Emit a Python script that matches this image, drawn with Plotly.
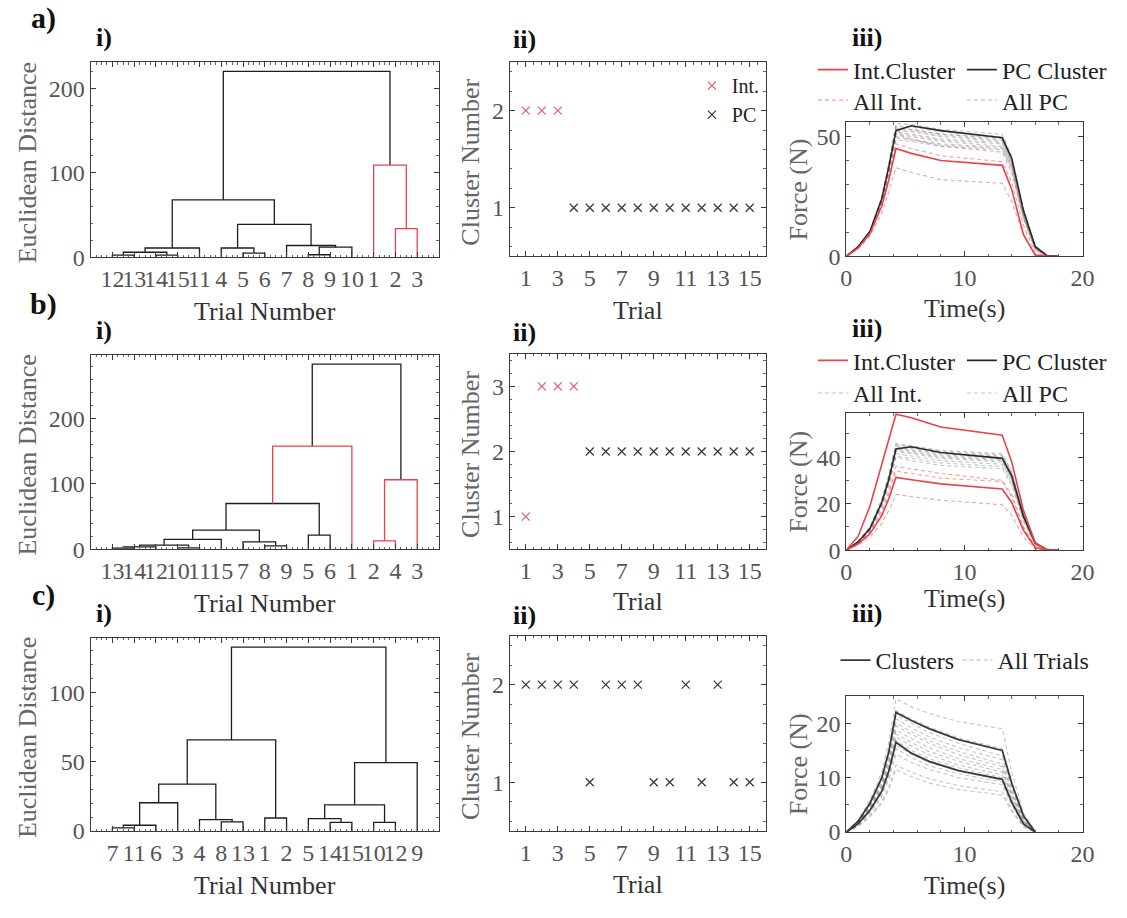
import plotly.graph_objects as go

W, H = 1127, 918
FONT = "Liberation Serif"

# ---------------- data ----------------
# Dendrograms: leaf order (trial numbers) and merges (child1, child2, height)
# positive child = trial number, negative child = -(index of earlier merge, 1-based)
leaf_order_a = [12, 13, 14, 15, 11, 4, 5, 6, 7, 8, 9, 10, 1, 2, 3]
merges_a = [(12, 13, 2.5), (14, 15, 2.5), (-1, -2, 6), (-3, 11, 11), (5, 6, 5), (4, -5, 11),
            (8, 9, 3), (-7, 10, 12), (7, -8, 14), (-6, -9, 39), (-4, -10, 68),
            (2, 3, 34), (1, -12, 109), (-11, -13, 220)]
link_group_a = ["pc"] * 11 + ["int", "int", "pc"]

leaf_order_b = [13, 14, 12, 10, 11, 15, 7, 8, 9, 5, 6, 1, 2, 4, 3]
merges_b = [(13, 14, 1.5), (-1, 12, 3.5), (10, 11, 2), (-2, -3, 6), (-4, 15, 15),
            (8, 9, 5), (7, -6, 11), (-5, -7, 29), (5, 6, 21.5), (-8, -9, 70),
            (-10, 1, 158), (2, 4, 12.5), (-12, 3, 106.5), (-11, -13, 284)]
link_group_b = ["pc"] * 10 + ["int", "int", "int", "pc"]

leaf_order_c = [7, 11, 6, 3, 4, 8, 13, 1, 2, 5, 14, 15, 10, 12, 9]
merges_c = [(7, 11, 2.3), (-1, 6, 4.2), (-2, 3, 20.4), (8, 13, 6.6), (4, -4, 8.2),
            (-3, -5, 33.8), (1, 2, 9.4), (-6, -7, 65.7), (14, 15, 6.3), (5, -9, 8.9),
            (10, 12, 6.3), (-10, -11, 18.8), (-12, 9, 49.3), (-8, -13, 132.6)]
link_group_c = ["pc"] * 14

# Cluster assignment per trial
trials = list(range(1, 16))
cluster_a = [2, 2, 2, 1, 1, 1, 1, 1, 1, 1, 1, 1, 1, 1, 1]
type_a = ["Int."] * 3 + ["PC"] * 12
cluster_b = [1, 3, 3, 3, 2, 2, 2, 2, 2, 2, 2, 2, 2, 2, 2]
type_b = ["Int."] * 4 + ["PC"] * 11
cluster_c = [2, 2, 2, 2, 1, 2, 2, 2, 1, 1, 2, 1, 2, 1, 1]

# Force traces (N) vs time (s)
time_ab = [0, 1, 2, 3, 3.6, 4.2, 5.5, 8, 13.2, 14, 15, 16, 17, 18]
a_int_trials = [
    [0, 4.0, 10.0, 23.0, 36.0, 51.0, 49.0, 46.0, 43.5, 35.0, 16.0, 3.0, 0, 0],
    [0, 3.5, 9.5, 21.0, 33.0, 47.0, 45.0, 42.0, 39.5, 31.0, 13.0, 1.5, 0, 0],
    [0, 3.0, 8.5, 18.0, 27.0, 37.0, 35.0, 32.0, 30.5, 23.0, 9.0, 0.5, 0, 0],
]
a_pc_trials = [
    [0, 4.2, 10.5, 25.0, 39.0, 55.5, 55.0, 53.0, 51.0, 42.0, 20.0, 4.5, 0.3, 0],
    [0, 4.1, 10.3, 24.5, 38.5, 54.5, 54.0, 52.0, 50.0, 41.0, 19.0, 4.0, 0.2, 0],
    [0, 4.0, 10.2, 24.0, 38.0, 54.0, 53.0, 51.0, 49.5, 40.5, 19.0, 4.0, 0.2, 0],
    [0, 4.0, 10.0, 24.0, 37.5, 53.5, 53.0, 51.0, 49.0, 40.0, 18.5, 3.8, 0.2, 0],
    [0, 3.9, 10.0, 23.5, 37.0, 53.0, 52.5, 50.5, 48.5, 40.0, 18.0, 3.7, 0.1, 0],
    [0, 3.9, 9.9, 23.5, 37.0, 52.5, 52.0, 50.0, 48.0, 39.5, 18.0, 3.5, 0.1, 0],
    [0, 3.8, 9.8, 23.0, 36.5, 52.0, 51.0, 49.0, 47.5, 39.0, 17.5, 3.5, 0.1, 0],
    [0, 3.8, 9.7, 23.0, 36.0, 51.5, 50.5, 48.5, 47.0, 38.5, 17.0, 3.3, 0.1, 0],
    [0, 3.8, 9.6, 22.5, 36.0, 51.0, 50.0, 48.0, 46.0, 38.0, 17.0, 3.2, 0, 0],
    [0, 3.7, 9.5, 22.5, 35.5, 50.0, 49.0, 47.0, 45.5, 37.5, 16.5, 3.0, 0, 0],
    [0, 3.7, 9.4, 22.0, 35.0, 49.5, 48.5, 46.5, 45.0, 37.0, 16.0, 3.0, 0, 0],
    [0, 3.6, 9.2, 22.0, 34.5, 48.5, 48.0, 46.0, 44.5, 36.5, 16.0, 2.8, 0, 0],
]
a_int_cluster = [0, 3.5, 9.5, 21.0, 32.0, 45.0, 43.0, 40.0, 38.0, 28.0, 9.0, 0.5, 0, 0]
a_pc_cluster = [0, 4.0, 10.5, 24.0, 37.5, 52.5, 54.5, 52.5, 49.5, 41.0, 19.0, 4.0, 0.3, 0]

b_int_trials = [
    [0, 3.0, 8.0, 17.0, 25.5, 36.0, 35.0, 33.0, 30.0, 24.0, 10.0, 1.5, 0, 0],
    [0, 2.8, 7.5, 16.0, 24.0, 34.0, 33.0, 31.0, 29.5, 23.0, 9.5, 1.2, 0, 0],
    [0, 2.2, 5.5, 11.5, 17.0, 24.0, 23.0, 21.5, 19.5, 15.0, 5.5, 0.5, 0, 0],
]
b_pc_trials = [
    [0, 3.8, 10.0, 22.0, 32.5, 46.0, 45.0, 43.0, 41.5, 34.0, 16.0, 3.5, 0.2, 0],
    [0, 3.7, 9.8, 21.5, 32.0, 45.5, 44.5, 42.5, 41.0, 33.5, 15.5, 3.3, 0.2, 0],
    [0, 3.7, 9.6, 21.0, 31.5, 45.0, 44.0, 42.0, 40.5, 33.0, 15.0, 3.2, 0.1, 0],
    [0, 3.6, 9.5, 21.0, 31.5, 44.5, 43.5, 41.5, 40.0, 32.5, 15.0, 3.0, 0.1, 0],
    [0, 3.6, 9.4, 20.5, 31.0, 44.0, 43.0, 41.0, 39.5, 32.0, 14.5, 3.0, 0.1, 0],
    [0, 3.5, 9.2, 20.5, 30.5, 43.5, 42.5, 40.5, 39.0, 31.5, 14.5, 2.8, 0, 0],
    [0, 3.5, 9.0, 20.0, 30.0, 43.0, 42.0, 40.0, 38.5, 31.0, 14.0, 2.7, 0, 0],
    [0, 3.4, 9.0, 20.0, 30.0, 42.5, 41.5, 39.5, 38.0, 30.5, 14.0, 2.6, 0, 0],
    [0, 3.3, 8.7, 19.5, 29.0, 41.5, 40.5, 38.5, 37.0, 30.0, 13.5, 2.5, 0, 0],
    [0, 3.2, 8.5, 19.0, 28.5, 40.5, 39.5, 37.5, 36.0, 29.0, 13.0, 2.3, 0, 0],
    [0, 3.1, 8.3, 18.5, 28.0, 40.0, 38.5, 36.5, 35.0, 28.0, 12.5, 2.2, 0, 0],
]
b_int_clusters = [
    [0, 6.0, 19.0, 37.0, 47.5, 58.5, 57.0, 53.0, 49.5, 38.0, 17.0, 3.0, 0, 0],
    [0, 2.7, 7.0, 14.8, 22.2, 31.3, 30.3, 28.5, 26.3, 20.5, 8.5, 1.0, 0, 0],
]
b_pc_cluster = [0, 3.5, 9.3, 20.5, 30.5, 43.5, 44.5, 42.0, 39.5, 32.0, 14.5, 3.0, 0.2, 0]

time_c = [0, 1, 2, 3, 3.6, 4.2, 5.5, 7, 9.5, 13.2, 14, 15, 16]
c_trials = [
    [0, 2.2, 5.9, 11.0, 16.5, 24.5, 23.0, 21.8, 20.3, 19.0, 11.0, 3.5, 0],
    [0, 2.0, 5.4, 10.0, 15.0, 22.3, 20.8, 19.3, 17.3, 15.3, 9.0, 3.0, 0],
    [0, 1.9, 5.2, 9.7, 14.5, 21.5, 20.0, 18.3, 16.3, 14.0, 8.3, 2.7, 0],
    [0, 1.9, 5.0, 9.4, 14.0, 20.8, 19.2, 17.5, 15.5, 13.3, 8.0, 2.5, 0],
    [0, 1.8, 4.8, 9.0, 13.5, 20.0, 18.5, 16.8, 14.8, 12.5, 7.5, 2.3, 0],
    [0, 1.8, 4.7, 8.8, 13.2, 19.5, 18.0, 16.3, 14.2, 12.0, 7.2, 2.2, 0],
    [0, 1.7, 4.5, 8.5, 12.6, 18.7, 17.2, 15.5, 13.5, 11.5, 6.8, 2.0, 0],
    [0, 1.6, 4.3, 8.2, 12.2, 18.0, 16.5, 14.8, 13.0, 11.0, 6.5, 1.9, 0],
    [0, 1.6, 4.2, 8.0, 11.8, 17.5, 15.8, 14.2, 12.3, 10.5, 6.2, 1.8, 0],
    [0, 1.5, 4.0, 7.6, 11.3, 16.8, 15.0, 13.5, 11.8, 10.0, 5.8, 1.6, 0],
    [0, 1.5, 3.9, 7.3, 10.8, 16.0, 14.3, 12.8, 11.2, 9.5, 5.5, 1.5, 0],
    [0, 1.4, 3.7, 7.0, 10.3, 15.3, 13.7, 12.2, 10.7, 9.2, 5.3, 1.4, 0],
    [0, 1.3, 3.4, 6.5, 9.7, 14.3, 12.8, 11.5, 10.0, 8.7, 5.0, 1.3, 0],
    [0, 1.1, 3.0, 5.6, 8.3, 12.3, 11.0, 9.8, 8.5, 7.4, 4.2, 1.0, 0],
    [0, 1.0, 2.8, 5.2, 7.8, 11.5, 10.2, 9.0, 7.8, 6.8, 3.8, 0.9, 0],
]
c_clusters = [
    [0, 2.0, 5.3, 10.0, 14.8, 22.0, 20.5, 19.0, 17.0, 15.0, 9.0, 3.0, 0],
    [0, 1.5, 4.0, 7.5, 11.2, 16.5, 14.5, 13.0, 11.3, 9.7, 5.5, 1.5, 0],
]

# ---------------- styling ----------------
RED = "#e8434b"
RED_LIGHT = "rgba(236,110,110,0.65)"
GRAY_DASH = "rgba(140,140,140,0.5)"
BLACK = "#2a2a2a"
AXC = "#3a3a3a"
TICKC = "#555555"

boxes = {  # pixel boxes (x0, x1, y0, y1)
    1: (86, 440, 63, 261), 2: (512, 772, 63, 260), 3: (854, 1094, 124, 260),
    4: (86, 440, 360, 557), 5: (512, 772, 359, 557), 6: (854, 1094, 419, 558),
    7: (86, 440, 647, 843), 8: (512, 772, 645, 843), 9: (854, 1094, 706, 844),
}

fig = go.Figure()


def dendro_segments(leaf_order, merges):
    pos = {t: i + 1 for i, t in enumerate(leaf_order)}
    nx, nh, segs = [], [], []

    def get(c):
        if c > 0:
            return pos[c], 0.0
        return nx[-c - 1], nh[-c - 1]

    for a, b, h in merges:
        xa, ha = get(a)
        xb, hb = get(b)
        segs.append(([xa, xa, xb, xb], [ha, h, h, hb]))
        nx.append((xa + xb) / 2)
        nh.append(h)
    return segs


def add_dendro(n, leaf_order, merges, groups):
    segs = dendro_segments(leaf_order, merges)
    for g, col in (("pc", "#1e1e1e"), ("int", RED)):
        xs, ys = [], []
        for (sx, sy), gg in zip(segs, groups):
            if gg == g:
                xs += sx + [None]
                ys += sy + [None]
        if xs:
            fig.add_trace(go.Scatter(x=xs, y=ys, mode="lines", line=dict(color=col, width=1.3),
                                     xaxis=f"x{n}", yaxis=f"y{n}", showlegend=False,
                                     hoverinfo="skip"))


add_dendro(1, leaf_order_a, merges_a, link_group_a)
add_dendro(4, leaf_order_b, merges_b, link_group_b)
add_dendro(7, leaf_order_c, merges_c, link_group_c)


def add_clusters(n, cl, types, legend=None):
    for t, col in (("Int.", "#e35d5d"), ("PC", "#333333")):
        xs = [tr for tr, tt in zip(trials, types) if tt == t]
        ys = [c for c, tt in zip(cl, types) if tt == t]
        if not xs:
            continue
        fig.add_trace(go.Scatter(
            x=xs, y=ys, mode="markers", name=t,
            marker=dict(symbol="x-thin", size=8, color=col, line=dict(width=1.2, color=col)),
            xaxis=f"x{n}", yaxis=f"y{n}", showlegend=legend is not None,
            legend=legend if legend else "legend"))


add_clusters(2, cluster_a, type_a, legend="legend")
add_clusters(5, cluster_b, type_b)
add_clusters(8, cluster_c, ["PC"] * 15)


def line(n, t, y, color, dash=None, width=1.3, name=None, legend=None, rank=None, lw=None):
    kw = {}
    if lw:
        kw["legendwidth"] = lw
    fig.add_trace(go.Scatter(
        x=t, y=y, mode="lines", name=name,
        line=dict(color=color, width=width, dash=dash),
        xaxis=f"x{n}", yaxis=f"y{n}",
        showlegend=name is not None, legend=legend if legend else "legend",
        legendrank=rank if rank else 1000, hoverinfo="skip", **kw))


DASH = "4px,3px"
# a-iii
for i, y in enumerate(a_pc_trials):
    line(3, time_ab, y, GRAY_DASH, DASH, 1.1, "All PC" if i == 0 else None, "legend3", 2, 120)
for i, y in enumerate(a_int_trials):
    line(3, time_ab, y, RED_LIGHT, DASH, 1.1, "All Int." if i == 0 else None, "legend3", 1, 104)
line(3, time_ab, a_pc_cluster, BLACK, None, 1.6, "PC Cluster", "legend2", 2, 120)
line(3, time_ab, a_int_cluster, RED, None, 1.6, "Int.Cluster", "legend2", 1, 104)

# b-iii
for i, y in enumerate(b_pc_trials):
    line(6, time_ab, y, GRAY_DASH, DASH, 1.1, "All PC" if i == 0 else None, "legend5", 2, 120)
for i, y in enumerate(b_int_trials):
    line(6, time_ab, y, RED_LIGHT, DASH, 1.1, "All Int." if i == 0 else None, "legend5", 1, 104)
line(6, time_ab, b_pc_cluster, BLACK, None, 1.6, "PC Cluster", "legend4", 2, 120)
for i, y in enumerate(b_int_clusters):
    line(6, time_ab, y, RED, None, 1.6, "Int.Cluster" if i == 0 else None, "legend4", 1, 104)

# c-iii
for i, y in enumerate(c_trials):
    line(9, time_c, y, GRAY_DASH, DASH, 1.1, "All Trials" if i == 0 else None, "legend6", 2, 120)
for i, y in enumerate(c_clusters):
    line(9, time_c, y, "#3a3a3a", None, 1.8, "Clusters" if i == 0 else None, "legend6", 1, 77)


# ---------------- axes ----------------
def base_axis(**kw):
    d = dict(showline=True, linecolor=AXC, linewidth=1, mirror="ticks", ticks="inside",
             ticklen=5, tickcolor=AXC, tickwidth=1, showgrid=False, zeroline=False,
             tickangle=0,
             tickfont=dict(family=FONT, size=24, color=TICKC), fixedrange=True)
    d.update(kw)
    return d


def minor(dt):
    return dict(ticks="inside", ticklen=2.5, tickcolor="#666", dtick=dt, tick0=0, showgrid=False)


layout = {}
dendro_max = {1: max(m[2] for m in merges_a), 4: max(m[2] for m in merges_b),
              7: max(m[2] for m in merges_c)}
leaf_orders = {1: leaf_order_a, 4: leaf_order_b, 7: leaf_order_c}
for n, (x0, x1, y0, y1) in boxes.items():
    xd = [x0 / W, x1 / W]
    yd = [1 - y1 / H, 1 - y0 / H]
    if n in (1, 4, 7):
        xa = base_axis(range=[0, 16], tickmode="array", tickvals=list(range(1, 16)),
                       ticktext=[str(v) for v in leaf_orders[n]], minor=minor(0.25))
        ymax = dendro_max[n] * 1.05
        if n == 7:
            ya = base_axis(range=[0, ymax], tickvals=[0, 50, 100], minor=minor(10))
        else:
            ya = base_axis(range=[0, ymax], tickvals=[0, 100, 200], minor=minor(20))
    elif n in (2, 5, 8):
        xa = base_axis(range=[0, 16], tickvals=list(range(1, 16, 2)), minor=minor(0.5))
        top = 3.5 if n == 5 else 2.5
        ya = base_axis(range=[0.5, top], tickvals=list(range(1, int(top) + 1)), minor=minor(0.2))
    else:
        xa = base_axis(range=[0, 20], tickvals=[0, 10, 20], minor=minor(2))
        if n == 3:
            ya = base_axis(range=[0, 56], tickvals=[0, 50], minor=minor(10))
        elif n == 6:
            ya = base_axis(range=[0, 59], tickvals=[0, 20, 40], minor=minor(10))
        else:
            ya = base_axis(range=[0, 25], tickvals=[0, 10, 20], minor=minor(5))
    xa.update(domain=xd, anchor=f"y{n}")
    ya.update(domain=yd, anchor=f"x{n}")
    layout[f"xaxis{n}"] = xa
    layout[f"yaxis{n}"] = ya


def px(x, y):
    return x / W, 1 - y / H


annots = []


def txt(s, x, y, size, color="#222", angle=0, bold=False):
    ax, ay = px(x, y)
    annots.append(dict(text=f"<b>{s}</b>" if bold else s, x=ax, y=ay, xref="paper", yref="paper",
                       showarrow=False, textangle=angle, xanchor="center", yanchor="middle",
                       font=dict(family=FONT, size=size, color=color)))


for lab, y in (("a)", 18), ("b)", 308), ("c)", 604)):
    txt(lab, 38, y, 30, "#111", bold=True)
for (lab, x), ys in ((("i)", 100), (38, 335, 622)), (("ii)", 527), (40, 337, 624)),
                     (("iii)", 875), (38, 333, 622))):
    for y in ys:
        txt(lab, x, y, 26, "#111", bold=True)

TS = 26
for n in (1, 4, 7):
    x0, x1, y0, y1 = boxes[n]
    txt("Euclidean Distance", 22, (y0 + y1) / 2 + 3, TS, "#666", angle=-90)
for n in (2, 5, 8):
    x0, x1, y0, y1 = boxes[n]
    txt("Cluster Number", 472, (y0 + y1) / 2 + 3, TS, "#666", angle=-90)
for n in (3, 6, 9):
    x0, x1, y0, y1 = boxes[n]
    txt("Force (N)", 805, (y0 + y1) / 2, TS, "#666", angle=-90)
for y in (316, 612, 898):
    txt("Trial Number", 263, y, TS, "#333")
for y in (315, 610, 897):
    txt("Trial", 642, y, TS, "#333")
for y in (313, 607, 898):
    txt("Time(s)", 974, y, TS, "#333")

legend_font = dict(family=FONT, size=24, color="#222")


def hleg(xpx, ypx, ew):
    x, y = px(xpx, ypx)
    return dict(orientation="h", x=x, y=y, xanchor="left", yanchor="middle",
                entrywidth=ew, entrywidthmode="pixels", font=legend_font,
                bgcolor="rgba(0,0,0,0)", itemwidth=30, tracegroupgap=0)


lx, ly = px(697, 67)
layout["legend"] = dict(x=lx, y=ly, xanchor="left", yanchor="top", font=dict(family=FONT, size=20, color="#222"),
                        bgcolor="rgba(0,0,0,0)", itemwidth=30, tracegroupgap=0)
layout["legend2"] = hleg(820, 71, 104)
layout["legend3"] = hleg(820, 102, 104)
layout["legend4"] = hleg(820, 366, 104)
layout["legend5"] = hleg(820, 399, 104)
layout["legend6"] = hleg(843, 670, 77)

fig.update_layout(
    width=W, height=H, margin=dict(l=0, r=0, t=0, b=0),
    paper_bgcolor="white", plot_bgcolor="white",
    font=dict(family=FONT, size=20, color="#333"),
    annotations=annots, showlegend=True, **layout)

fig.write_html("out.html")
